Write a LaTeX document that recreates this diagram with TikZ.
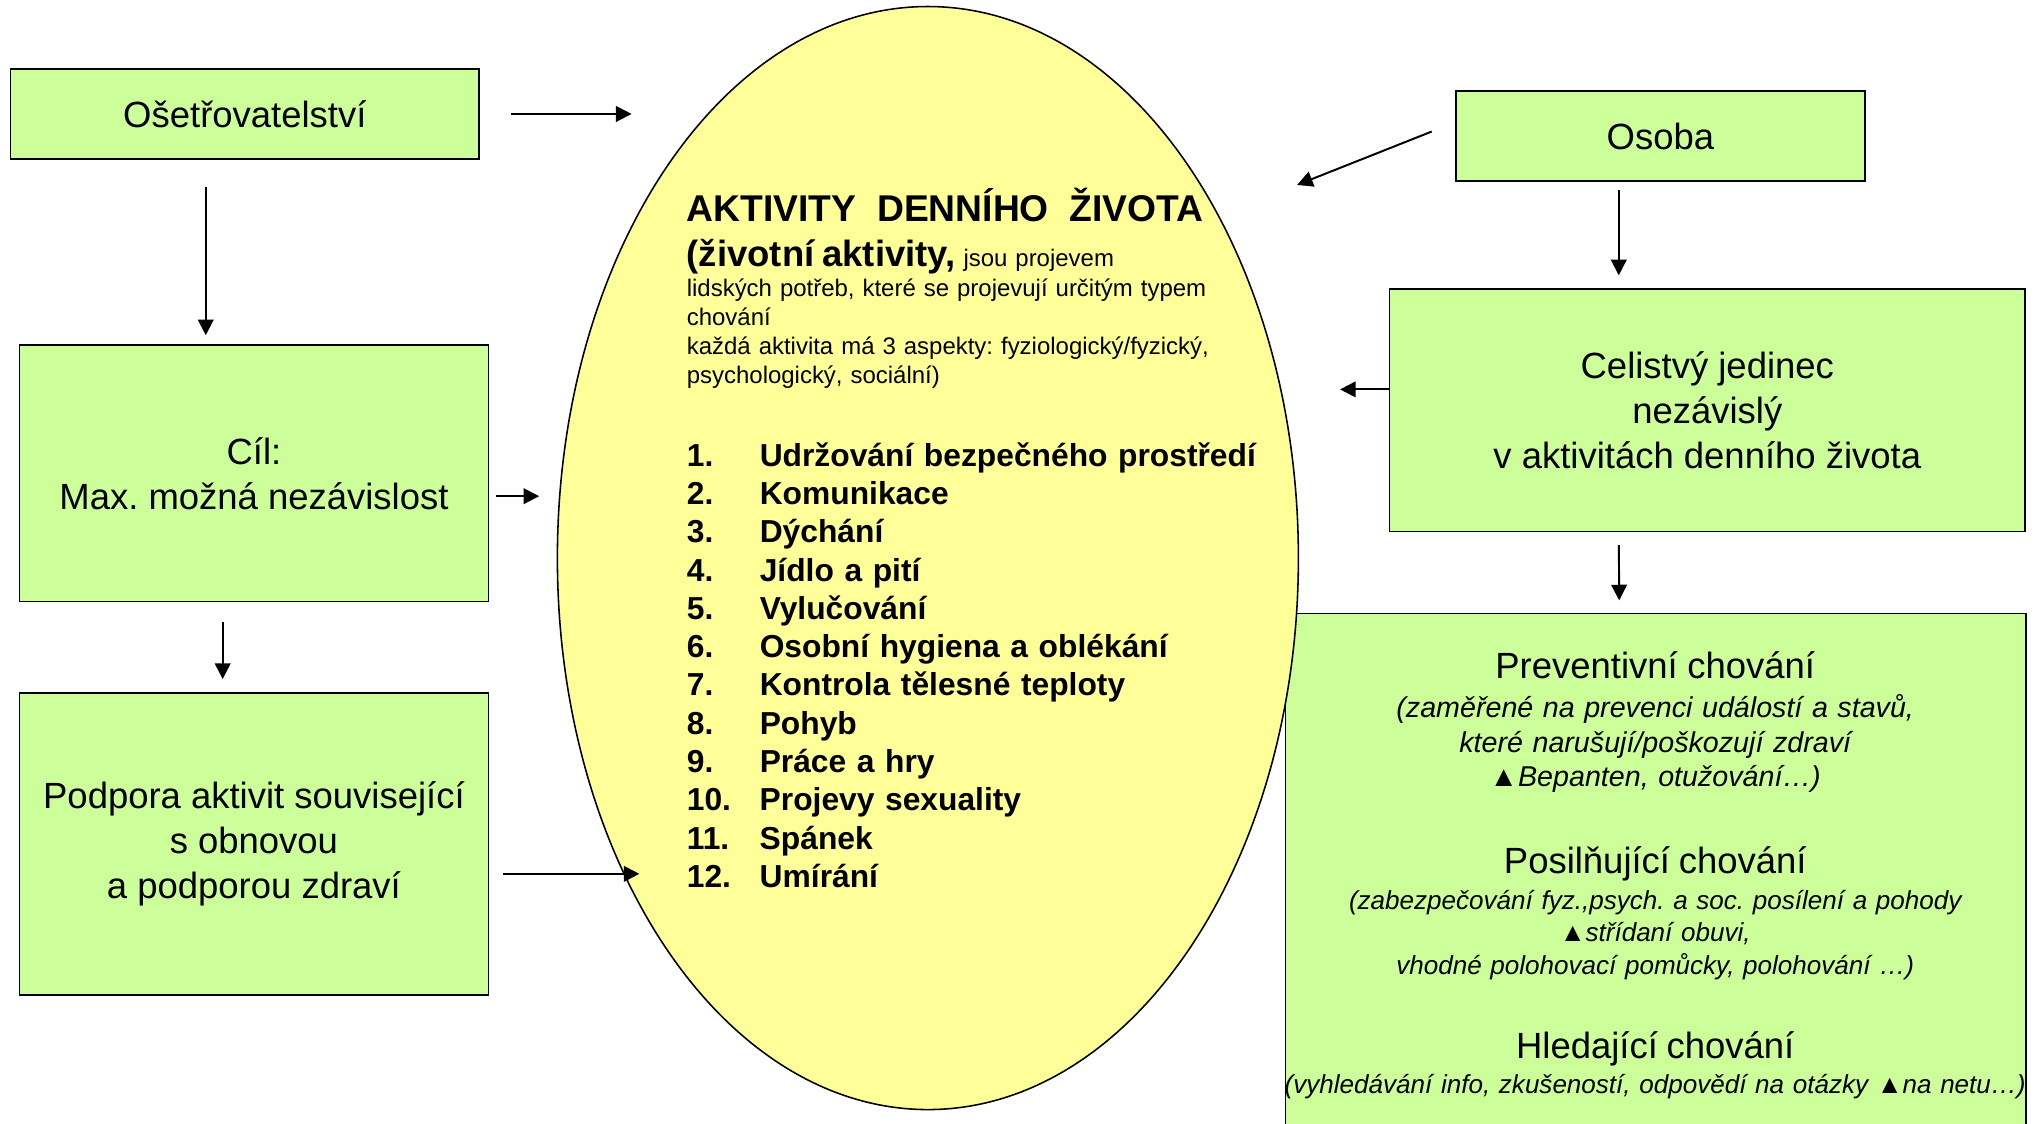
\documentclass[tikz,border=0pt]{standalone}
\usepackage{fontspec}
\setmainfont{Liberation Sans}
\usetikzlibrary{shapes.geometric, arrows.meta, positioning}
\definecolor{boxgreen}{RGB}{204,255,153}
\definecolor{ovalyellow}{RGB}{255,255,153}
\newcommand{\polozka}[2]{\makebox[28pt][l]{#1}#2}
\frenchspacing

\begin{document}
\begin{tikzpicture}[
        x=0.5pt, y=-0.5pt,
        box/.style={
            rectangle, draw=black, fill=boxgreen, line width=0.6pt,
            inner sep=0pt, align=center, font=\fontsize{14}{17.2}\selectfont
        },
        oval/.style={
            ellipse, draw=black, fill=ovalyellow, line width=0.6pt, inner sep=0pt
        },
        txt/.style={inner sep=0pt, align=left},
        arrow/.style={-{Triangle[length=6pt, width=6pt]}, line width=0.75pt}
    ]
        \useasboundingbox (0,0) rectangle (1568,863);

        % Left side
        \node[box, minimum width=180pt, minimum height=34.5pt] (osetr) at (188,87.5) {Ošetřovatelství};
        \node[box, minimum width=180pt, minimum height=98.5pt] (cil) at (195,363.5) {Cíl:\\ Max. možná nezávislost};
        \node[box, minimum width=180pt, minimum height=116pt] (podpora) at (195,648) {Podpora aktivit související\\ s obnovou\\ a podporou zdraví};

        % Right side
        \node[box, minimum width=157pt, minimum height=34.5pt] (osoba) at (1275,104.5) {Osoba};
        \node[box, minimum width=244pt, minimum height=93pt] (jedinec) at (1311,315) {Celistvý jedinec\\ nezávislý\\ v aktivitách denního života};
        \node[fill=boxgreen, inner sep=0pt, minimum width=284pt, minimum height=196pt, anchor=north west] (chovani) at (987,471) {};
        \draw[line width=0.6pt] (chovani.south west) |- (chovani.north east) -- (chovani.south east);

        \node[txt, align=center, anchor=base, text width=310pt, font=\fontsize{11}{13.25}\selectfont\itshape] (prev) at (1271,521)
            {{\fontsize{14}{17}\selectfont\upshape Preventivní chování}\\[1.75pt]
             (zaměřené na prevenci událostí a stavů,\\ které narušují/poškozují zdraví\\ ▲Bepanten, otužování…)};
        \node[txt, align=center, anchor=base, text width=310pt, font=\fontsize{10}{12.5}\selectfont\itshape] (posil) at (1271,671)
            {{\fontsize{14}{17}\selectfont\upshape Posilňující chování}\\[1pt]
             (zabezpečování fyz.,psych. a soc. posílení a pohody\\ ▲střídaní obuvi,\\ vhodné polohovací pomůcky, polohování …)};
        \node[txt, align=center, anchor=base, text width=360pt, font=\fontsize{10}{13.25}\selectfont\itshape] (hled) at (1271,813)
            {{\fontsize{14}{17}\selectfont\upshape Hledající chování}\\[0.25pt]
             (vyhledávání info, zkušeností, odpovědí na otázky ▲na netu…)};

        % Middle
        \node[oval, minimum width=284.5pt, minimum height=423.5pt] (adl) at (712.5,428.5) {};
        \node[txt, anchor=base west, font=\fontsize{14.3}{17}\selectfont\bfseries] (nadpis) at (527,170) {AKTIVITY\ \ DENNÍHO\ \ ŽIVOTA};
        \node[txt, anchor=base west, text width=215pt, font=\fontsize{9.2}{11.2}\selectfont] (popis) at (527,205)
            {{\fontsize{14}{17}\selectfont\bfseries (životní aktivity,} jsou projevem\\
             lidských potřeb, které se projevují určitým typem\\ chování\\
             každá aktivita má 3 aspekty: fyziologický/fyzický,\\ psychologický, sociální)};
        \node[txt, anchor=base west, text width=240pt, font=\fontsize{12.2}{14.7}\selectfont\bfseries] (seznam) at (527,358)
            {\polozka{1.}{Udržování bezpečného prostředí}\\
             \polozka{2.}{Komunikace}\\
             \polozka{3.}{Dýchání}\\
             \polozka{4.}{Jídlo a pití}\\
             \polozka{5.}{Vylučování}\\
             \polozka{6.}{Osobní hygiena a oblékání}\\
             \polozka{7.}{Kontrola tělesné teploty}\\
             \polozka{8.}{Pohyb}\\
             \polozka{9.}{Práce a hry}\\
             \polozka{10.}{Projevy sexuality}\\
             \polozka{11.}{Spánek}\\
             \polozka{12.}{Umírání}};

        % Arrows
        \coordinate (in1) at (485,87.5);
        \coordinate (in3) at (414,381);
        \coordinate (in5) at (491,671);
        \coordinate (in6) at (996,142);
        \coordinate (in8) at (1029,299);

        \draw[arrow, shorten <=12pt] (osetr.east) -- (in1);
        \draw[arrow, shorten <=10.5pt, shorten >=3.5pt] ([xshift=-15pt]osetr.south) -- ([xshift=-18.5pt]cil.north);
        \draw[arrow, shorten <=2.5pt] ([yshift=-8.75pt]cil.east) -- (in3);
        \draw[arrow, shorten <=7.5pt, shorten >=5pt] ([xshift=-12pt]cil.south) -- ([xshift=-12pt]podpora.north);
        \draw[arrow, shorten <=5.5pt] ([yshift=-11.5pt]podpora.east) -- (in5);

        \draw[arrow] ([shift={(-9pt,1.75pt)}]osoba.west) -- (in6);
        \draw[arrow, shorten <=3pt, shorten >=5pt] ([xshift=-16pt]osoba.south) -- ([xshift=-34pt]jedinec.north);
        \draw[arrow] ([yshift=8pt]jedinec.west) -- (in8);
        \draw[arrow, shorten <=5pt, shorten >=5pt] ([xshift=-34pt]jedinec.south) -- ([xshift=-14pt]chovani.north);

    \end{tikzpicture}
\end{document}
